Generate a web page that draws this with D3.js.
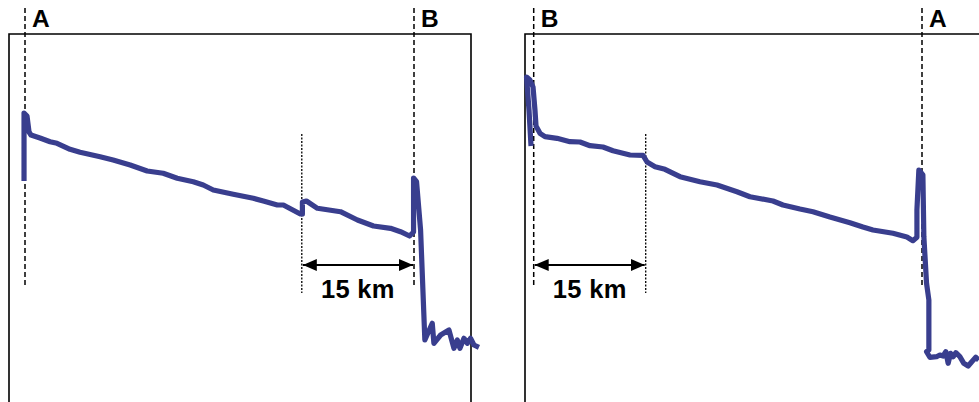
<!DOCTYPE html>
<html>
<head>
<meta charset="utf-8">
<script src="https://cdn.jsdelivr.net/npm/d3@7"></script>
<style>
  body { margin: 0; background: #fff; }
  svg { display: block; }
  text { font-family: "Liberation Sans", Arial, sans-serif; font-weight: bold; fill: #000; }
</style>
</head>
<body>
<svg width="979" height="402"></svg>
<script>
// OTDR traces, distance in km from the launch end, level in dB
var traceAB_km = [-0.13, -0.13, 0.27, 0.54, 0.8, 2.0, 3.35, 4.28, 6.02, 7.36, 10.04, 11.78, 14.06, 16.33, 18.47, 20.35, 22.49, 23.83, 25.17, 27.84, 30.52, 31.86, 33.73, 34.54, 36.81, 37.08, 37.08, 37.62, 39.09, 42.17, 44.44, 46.59, 48.86, 50.2, 51.41, 51.94, 51.94, 52.34, 52.88, 53.45, 54.44, 54.66, 55.56, 56.67, 57.34, 57.79, 58.14, 58.68, 59.13, 59.57, 60.01, 60.68];
var traceAB_dB = [22.3, 29.1, 28.8, 27.2, 26.9, 26.6, 26.23, 26.07, 25.47, 25.17, 24.73, 24.4, 23.9, 23.3, 23.07, 22.57, 22.23, 21.9, 21.4, 20.97, 20.57, 20.3, 19.9, 19.9, 19.0, 19.0, 20.2, 20.3, 19.57, 19.23, 18.4, 17.8, 17.57, 17.23, 16.8, 17.2, 22.6, 22.23, 17.4, 6.4, 8.07, 6.07, 6.9, 7.4, 5.57, 6.4, 5.57, 6.57, 6.07, 6.57, 5.9, 5.67];

var traceBA_km = [-0.36, -0.63, -0.96, -0.5, -0.09, 0.17, 0.31, 0.84, 1.51, 3.12, 4.86, 6.2, 7.54, 9.28, 10.62, 12.9, 14.64, 15.18, 16.25, 17.58, 19.59, 22.27, 24.55, 27.22, 28.96, 32.04, 33.38, 35.66, 37.4, 39.67, 42.35, 44.09, 45.43, 48.11, 49.98, 50.78, 51.32, 51.32, 51.58, 52.12, 52.25, 52.61, 52.92, 52.92, 52.61, 53.05, 53.95, 54.39, 54.83, 55.19, 55.5, 55.82, 56.17, 56.53, 57.07, 57.6, 58.18, 58.67, 59.2, 59.6];
var traceBA_dB = [25.8, 29.4, 32.7, 32.4, 31.7, 29.4, 27.8, 27.07, 26.73, 26.57, 26.23, 26.2, 25.83, 25.7, 25.33, 24.9, 24.87, 24.2, 23.73, 23.47, 22.73, 22.23, 21.9, 21.23, 20.73, 20.3, 19.9, 19.5, 19.23, 18.7, 18.13, 17.7, 17.4, 17.07, 16.7, 16.33, 16.67, 19.4, 23.4, 22.9, 16.73, 12.07, 10.4, 5.4, 5.23, 4.67, 4.73, 4.9, 4.8, 5.23, 4.07, 5.07, 4.73, 5.13, 4.73, 4.07, 3.8, 4.23, 4.67, 4.4];

var fiberLength = 52;   // km between A and B
var spliceDist = 15;    // km between splice and the near/far end

var svg = d3.select("svg");
var traceColor = "#393e8e";

var y = d3.scaleLinear().domain([0, 37]).range([404, 34]);

var panels = [
  { x0: 25, x1: 414, box: [9, 471], ends: ["A", "B"], splice: fiberLength - spliceDist, span: [fiberLength - spliceDist, fiberLength], km: traceAB_km, dB: traceAB_dB },
  { x0: 533.7, x1: 922, box: [525, 990], ends: ["B", "A"], splice: spliceDist, span: [0, spliceDist], km: traceBA_km, dB: traceBA_dB }
];

var defs = svg.append("defs");
defs.append("marker")
  .attr("id", "head")
  .attr("viewBox", "0 0 14 12")
  .attr("refX", 14).attr("refY", 6)
  .attr("markerWidth", 14).attr("markerHeight", 12)
  .attr("markerUnits", "userSpaceOnUse")
  .attr("orient", "auto-start-reverse")
  .append("path").attr("d", "M0,0L14,6L0,12Z").attr("fill", "#000");

panels.forEach(function(p) {
  var x = d3.scaleLinear().domain([0, fiberLength]).range([p.x0, p.x1]);
  var g = svg.append("g");

  // frame (top, left, right)
  g.append("path")
    .attr("d", "M" + p.box[0] + ",404V34H" + p.box[1] + "V404")
    .attr("fill", "none").attr("stroke", "#000").attr("stroke-width", 1.6);

  // end markers
  [0, fiberLength].forEach(function(d, i) {
    g.append("line")
      .attr("x1", x(d)).attr("x2", x(d))
      .attr("y1", 8).attr("y2", 288)
      .attr("stroke", "#000").attr("stroke-width", 1.5)
      .attr("stroke-dasharray", "5,3");
    g.append("text")
      .attr("x", x(d) + 7).attr("y", 27)
      .attr("font-size", 24.5)
      .text(p.ends[i]);
  });

  // splice marker
  g.append("line")
    .attr("x1", x(p.splice)).attr("x2", x(p.splice))
    .attr("y1", 134).attr("y2", 293)
    .attr("stroke", "#000").attr("stroke-width", 1.3)
    .attr("stroke-dasharray", "2,1.5");

  // trace
  var pts = p.km.map(function(k, i) { return [x(k), y(p.dB[i])]; });
  g.append("path")
    .attr("d", d3.line()(pts))
    .attr("fill", "none")
    .attr("stroke", traceColor)
    .attr("stroke-width", 5.2)
    .attr("stroke-linejoin", "round")
    .attr("stroke-linecap", "butt");

  // distance arrow
  g.append("line")
    .attr("x1", x(p.span[0]) + 1).attr("x2", x(p.span[1]) - 1)
    .attr("y1", 265).attr("y2", 265)
    .attr("stroke", "#000").attr("stroke-width", 2)
    .attr("marker-start", "url(#head)")
    .attr("marker-end", "url(#head)");
  g.append("text")
    .attr("x", (x(p.span[0]) + x(p.span[1])) / 2)
    .attr("y", 297.5)
    .attr("text-anchor", "middle")
    .attr("font-size", 25.5)
    .attr("letter-spacing", 0.3)
    .text(spliceDist + " km");
});
</script>
</body>
</html>
